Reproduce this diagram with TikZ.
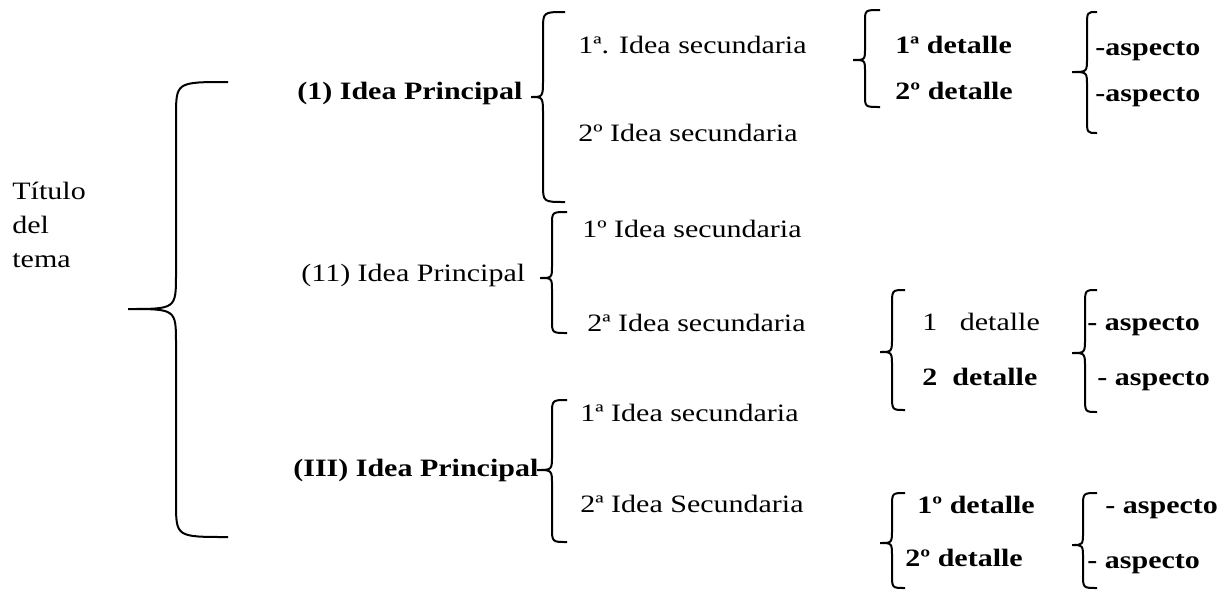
\documentclass[tikz,border=0pt]{standalone}
\usepackage{fontspec}
\setmainfont{Liberation Serif}[FakeStretch=1.2]
\usepackage{tikz}
\tikzstyle{texto} = [anchor=base west, inner sep=0pt, font=\fontsize{12.5}{15}\selectfont]
\tikzstyle{negrita} = [texto, font=\fontsize{12.5}{15}\selectfont\bfseries]
\tikzstyle{llave} = [draw, line width=1pt]
\newcommand{\corchete}[7]{%
  \draw[llave] (#1,#4) .. controls (#2,#4) .. (#2,#4+#7) -- (#2,#5-#7)
    .. controls (#2,#5) .. (#3,#5) .. controls (#2,#5) .. (#2,#5+#7)
    -- (#2,#6-#7) .. controls (#2,#6) .. (#1,#6);}

\begin{document}
\begin{tikzpicture}[x=0.5pt, y=-0.5pt]
      \useasboundingbox (0,0) rectangle (1229,590);
      \node[texto, anchor=north west, align=left, font=\fontsize{12.5}{17}\selectfont] (titulo) at (12,182) {Título\\del\\tema};

      \node[negrita] (idea1) at (297,99) {(1) Idea Principal};
      \node[texto] (idea2) at (301,281) {(11) Idea Principal};
      \node[negrita] (idea3) at (293,476) {(III) Idea Principal};

      \node[texto] (sec11) at (578,53) {1ª. Idea secundaria};
      \node[texto] (sec12) at (578,141) {2º Idea secundaria};
      \node[texto] (sec21) at (582,237) {1º Idea secundaria};
      \node[texto] (sec22) at (587,331) {2ª Idea secundaria};
      \node[texto] (sec31) at (580,421) {1ª Idea secundaria};
      \node[texto] (sec32) at (580,512) {2ª Idea Secundaria};

      \node[negrita] (det11) at (895,53) {1ª detalle};
      \node[negrita] (det12) at (895,99) {2º detalle};
      \node[texto] (det21) at (922,330) {1\ \ \ detalle};
      \node[negrita] (det22) at (922,385) {2\ \ detalle};
      \node[negrita] (det31) at (917,513) {1º detalle};
      \node[negrita] (det32) at (905,566) {2º detalle};

      \node[negrita] (asp11) at (1095,55) {-aspecto};
      \node[negrita] (asp12) at (1095,101) {-aspecto};
      \node[negrita] (asp21) at (1087,330) {- aspecto};
      \node[negrita] (asp22) at (1097,385) {- aspecto};
      \node[negrita] (asp31) at (1105,513) {- aspecto};
      \node[negrita] (asp32) at (1087,568) {- aspecto};

      \corchete{228}{176}{128}{82}{309}{537}{35}
      \corchete{565}{543}{531}{12}{97}{202}{18}
      \corchete{567}{552}{540}{212}{278}{333}{13}
      \corchete{567}{552}{537}{400}{470}{542}{15}
      \corchete{880}{865}{853}{10}{60}{107}{12}
      \corchete{1097}{1087}{1072}{12}{72}{133}{14}
      \corchete{905}{892}{880}{290}{352}{410}{15}
      \corchete{1097}{1085}{1072}{290}{353}{412}{15}
      \corchete{905}{892}{880}{493}{543}{588}{14}
      \corchete{1097}{1083}{1072}{493}{545}{588}{14}
\end{tikzpicture}
\end{document}
